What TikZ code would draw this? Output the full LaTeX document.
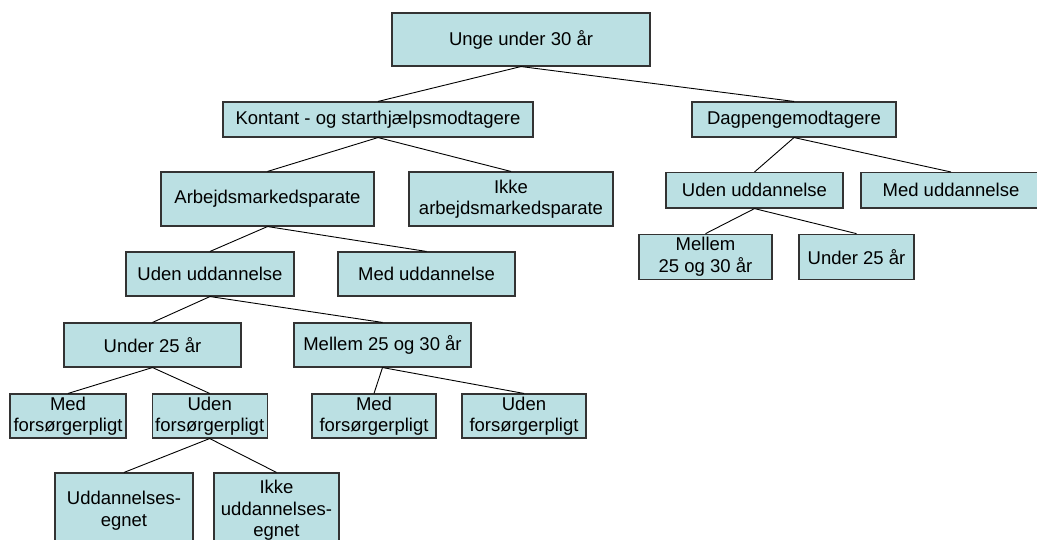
\documentclass[tikz,border=0pt]{standalone}
\usepackage{fontspec}
\setmainfont{Liberation Sans}
\definecolor{boxfill}{HTML}{BBE0E3}
\definecolor{boxline}{HTML}{333333}
\begin{document}
\begin{tikzpicture}[x=1pt,y=-1pt,
  box/.style={draw=boxline, fill=boxfill, line width=1.1pt, inner sep=0pt, align=center,
    font=\fontsize{18.5}{21.5}\selectfont},
  link/.style={draw=black, line width=0.9pt}]
\useasboundingbox (0,0) rectangle (1037,540);
\newcommand{\bx}[7]{\node[box, minimum width=#4pt, minimum height=#5pt] (#1) at (#2,#3) {#6};}
% level 0
\bx{root}{521}{39.5}{258}{53}{Unge under 30 år}{}
% level 1
\bx{kont}{378}{119.5}{310}{35}{Kontant - og starthjælpsmodtagere}{}
\bx{dag}{794}{119.5}{204}{35}{Dagpengemodtagere}{}
% level 2
\bx{arb}{267.5}{199}{213}{54}{Arbejdsmarkedsparate}{}
\bx{ikkearb}{511}{199}{204}{54}{Ikke\\arbejdsmarkedsparate}{}
\bx{udenR}{754.5}{190.3}{177}{35.5}{Uden uddannelse}{}
\bx{medR}{951}{190.3}{180}{35.5}{Med uddannelse}{}
% level 3 right
\bx{mellemR}{705.5}{256.7}{133}{45}{Mellem\\25 og 30 år}{}
\bx{underR}{856.5}{256.7}{115}{45}{Under 25 år}{}
% level 3 left
\bx{udenL}{210}{274}{168}{44}{Uden uddannelse}{}
\bx{medL}{426.5}{274}{177}{44}{Med uddannelse}{}
% level 4
\bx{underL}{152.5}{345}{177}{44}{Under 25 år}{}
\bx{mellemL}{382.5}{345}{177}{44}{Mellem 25 og 30 år}{}
% level 5
\bx{medF1}{68}{416}{116}{44}{Med\\forsørgerpligt}{}
\bx{udenF1}{209.7}{416}{115}{44}{Uden\\forsørgerpligt}{}
\bx{medF2}{374}{416}{124}{44}{Med\\forsørgerpligt}{}
\bx{udenF2}{524}{416}{124}{44}{Uden\\forsørgerpligt}{}
% level 6
\bx{udd}{124}{510.5}{138}{75}{Uddannelses-\\egnet}{}
\bx{ikkeudd}{276.5}{510.5}{125}{75}{Ikke\\uddannelses-\\egnet}{}
% connectors
\draw[link] (root.south) -- (kont.north);
\draw[link] (root.south) -- (dag.north);
\draw[link] (kont.south) -- (arb.north);
\draw[link] (kont.south) -- (ikkearb.north);
\draw[link] (dag.south) -- (udenR.north);
\draw[link] (dag.south) -- (medR.north);
\draw[link] (udenR.south) -- (mellemR.north);
\draw[link] (udenR.south) -- (underR.north);
\draw[link] (arb.south) -- (udenL.north);
\draw[link] (arb.south) -- (medL.north);
\draw[link] (udenL.south) -- (underL.north);
\draw[link] (udenL.south) -- (mellemL.north);
\draw[link] (underL.south) -- (medF1.north);
\draw[link] (underL.south) -- (udenF1.north);
\draw[link] (mellemL.south) -- (medF2.north);
\draw[link] (mellemL.south) -- (udenF2.north);
\draw[link] (udenF1.south) -- (udd.north);
\draw[link] (udenF1.south) -- (ikkeudd.north);
\end{tikzpicture}
\end{document}
